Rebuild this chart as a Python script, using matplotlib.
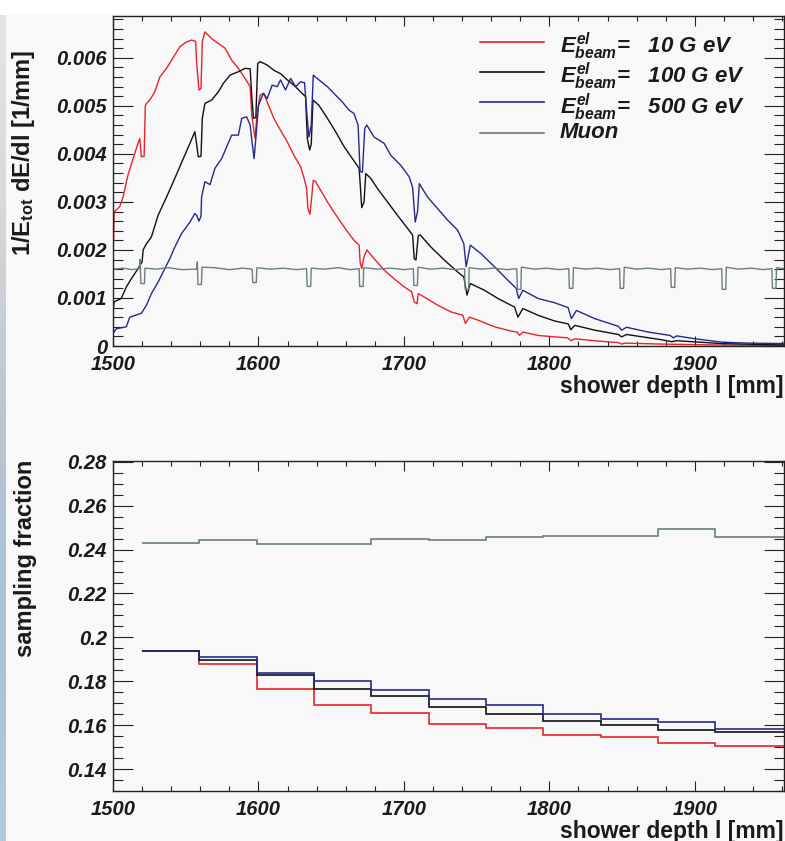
import numpy as np
import matplotlib
matplotlib.use('Agg')
import matplotlib.pyplot as plt
from matplotlib.ticker import MultipleLocator, FuncFormatter
from matplotlib.colors import LinearSegmentedColormap
from matplotlib.patches import Rectangle

plt.rcParams['font.family'] = ['Liberation Sans', 'DejaVu Sans']
plt.rcParams['mathtext.fontset'] = 'custom'
plt.rcParams['mathtext.it'] = 'Liberation Sans:italic:bold'
plt.rcParams['mathtext.rm'] = 'Liberation Sans:italic:bold'
plt.rcParams['mathtext.bf'] = 'Liberation Sans:bold'

# ---- top panel: longitudinal shower profile, 1/E_tot dE/dl [1/mm] ----
red_x = [1500.3, 1500.8, 1504.6, 1506.9, 1510.3, 1513.8, 1517.2, 1518.4, 1519.5, 1521.4, 1522.2,
         1523.0, 1525.3, 1528.7, 1532.2, 1536.8, 1542.5, 1546.0, 1550.0, 1554.0, 1556.8, 1557.5,
         1559.1, 1560.5, 1561.4, 1563.2, 1567.8, 1572.4, 1577.0, 1581.6, 1586.2, 1590.8, 1594.3,
         1595.4, 1597.7, 1598.9, 1601.1, 1603.7, 1606.0, 1610.6, 1615.2, 1619.8, 1624.4, 1629.0,
         1631.3, 1633.1, 1634.0, 1635.4, 1636.3, 1637.7, 1639.3, 1642.8, 1647.4, 1651.9, 1656.6,
         1661.2, 1665.7, 1669.2, 1669.9, 1671.0, 1672.6, 1674.5, 1679.5, 1686.4, 1693.3, 1700.2,
         1705.3, 1707.1, 1709.0, 1709.9, 1714.0, 1723.2, 1732.4, 1740.5, 1742.3, 1745.0, 1750.8,
         1762.3, 1773.8, 1777.9, 1779.5, 1781.8, 1792.2, 1803.7, 1812.5, 1815.0, 1817.5, 1831.0,
         1847.4, 1849.7, 1852.0, 1877.0, 1918.0, 1963.0]
red_y = [0.00210, 0.00279, 0.00290, 0.00310, 0.00356, 0.00390, 0.00422, 0.00432, 0.00394, 0.00395, 0.00500,
         0.00505, 0.00512, 0.00529, 0.00560, 0.00578, 0.00606, 0.00623, 0.00632, 0.00637, 0.00634, 0.00590,
         0.00533, 0.00536, 0.00634, 0.00654, 0.00640, 0.00630, 0.00620, 0.00595, 0.00578, 0.00557, 0.00540,
         0.00480, 0.00432, 0.00480, 0.00522, 0.00526, 0.00508, 0.00474, 0.00449, 0.00425, 0.00397, 0.00373,
         0.00350, 0.00328, 0.00286, 0.00274, 0.00300, 0.00345, 0.00342, 0.00324, 0.00300, 0.00279, 0.00258,
         0.00238, 0.00220, 0.00210, 0.00175, 0.00161, 0.00186, 0.00200, 0.00182, 0.00158, 0.00140, 0.00123,
         0.00113, 0.00092, 0.00088, 0.00109, 0.00102, 0.00085, 0.00071, 0.00064, 0.00047, 0.00060, 0.00054,
         0.00040, 0.00031, 0.00029, 0.00022, 0.00029, 0.00022, 0.00019, 0.00017, 0.00011, 0.00015, 0.00011,
         0.00007, 0.00004, 0.00006, 0.00004, 0.00002, 0.00001]

black_x = [1500.0, 1500.8, 1505.7, 1509.2, 1512.6, 1517.2, 1520.0, 1520.7, 1523.0, 1526.4, 1531.0,
           1536.8, 1542.5, 1548.3, 1552.9, 1556.3, 1557.5, 1558.6, 1560.5, 1561.4, 1563.2, 1567.8,
           1572.4, 1575.9, 1580.5, 1586.2, 1590.8, 1594.3, 1595.4, 1596.6, 1598.2, 1599.5, 1601.1,
           1606.0, 1610.6, 1615.2, 1619.8, 1624.4, 1629.0, 1632.4, 1633.6, 1635.2, 1636.3, 1637.5,
           1641.6, 1647.4, 1653.1, 1658.9, 1664.6, 1669.2, 1669.9, 1671.0, 1672.6, 1673.8, 1677.2,
           1681.8, 1688.7, 1695.6, 1702.5, 1706.0, 1707.1, 1708.3, 1709.9, 1711.3, 1718.6, 1727.8,
           1737.0, 1741.2, 1743.4, 1745.7, 1755.4, 1764.6, 1776.1, 1778.4, 1781.8, 1792.2, 1803.7,
           1808.3, 1813.0, 1814.8, 1817.5, 1831.2, 1847.4, 1849.7, 1853.1, 1877.2, 1884.1, 1887.6,
           1918.6, 1963.0]
black_y = [0.00071, 0.00092, 0.00099, 0.00123, 0.00140, 0.00161, 0.00175, 0.00200, 0.00213, 0.00227, 0.00272,
           0.00310, 0.00349, 0.00390, 0.00422, 0.00446, 0.00420, 0.00394, 0.00395, 0.00474, 0.00505, 0.00512,
           0.00529, 0.00547, 0.00564, 0.00571, 0.00578, 0.00577, 0.00520, 0.00474, 0.00476, 0.00588, 0.00592,
           0.00585, 0.00574, 0.00567, 0.00554, 0.00543, 0.00529, 0.00519, 0.00432, 0.00408, 0.00420, 0.00512,
           0.00501, 0.00474, 0.00446, 0.00415, 0.00390, 0.00370, 0.00340, 0.00288, 0.00300, 0.00359, 0.00349,
           0.00328, 0.00300, 0.00272, 0.00245, 0.00231, 0.00182, 0.00179, 0.00230, 0.00231, 0.00206, 0.00179,
           0.00154, 0.00144, 0.00106, 0.00130, 0.00116, 0.00099, 0.00081, 0.00060, 0.00078, 0.00064, 0.00052,
           0.00049, 0.00046, 0.00034, 0.00043, 0.00033, 0.00024, 0.00019, 0.00024, 0.00013, 0.00009, 0.00011,
           0.00005, 0.00002]

blue_x = [1500.0, 1502.3, 1509.2, 1511.5, 1519.5, 1523.0, 1526.4, 1531.0, 1535.6, 1539.1, 1542.5,
          1547.1, 1552.9, 1556.3, 1557.5, 1559.1, 1560.5, 1560.9, 1563.2, 1566.7, 1570.1, 1574.7,
          1578.2, 1581.6, 1586.2, 1588.5, 1591.9, 1594.3, 1595.4, 1597.0, 1598.4, 1600.0, 1603.4,
          1606.0, 1609.4, 1612.9, 1615.2, 1618.6, 1622.1, 1625.5, 1629.0, 1631.7, 1633.1, 1634.7,
          1636.3, 1637.7, 1641.6, 1647.4, 1653.1, 1657.7, 1662.3, 1665.7, 1668.5, 1669.9, 1671.5,
          1673.1, 1674.5, 1679.5, 1686.4, 1691.0, 1697.9, 1703.7, 1706.0, 1707.8, 1709.4, 1710.6,
          1716.3, 1723.2, 1730.1, 1737.0, 1741.2, 1742.8, 1745.7, 1753.1, 1762.3, 1771.5, 1777.2,
          1778.9, 1781.8, 1792.2, 1803.7, 1812.9, 1815.2, 1818.6, 1831.2, 1847.4, 1849.7, 1853.1,
          1868.0, 1883.0, 1885.3, 1887.6, 1900.2, 1918.6, 1937.0, 1963.0]
blue_y = [0.00026, 0.00036, 0.00040, 0.00060, 0.00068, 0.00085, 0.00109, 0.00133, 0.00161, 0.00182, 0.00206,
          0.00234, 0.00258, 0.00276, 0.00272, 0.00260, 0.00270, 0.00310, 0.00342, 0.00336, 0.00370, 0.00390,
          0.00415, 0.00439, 0.00439, 0.00474, 0.00477, 0.00460, 0.00430, 0.00390, 0.00439, 0.00501, 0.00526,
          0.00515, 0.00543, 0.00540, 0.00554, 0.00533, 0.00557, 0.00540, 0.00550, 0.00548, 0.00490, 0.00435,
          0.00460, 0.00564, 0.00554, 0.00540, 0.00522, 0.00508, 0.00491, 0.00484, 0.00460, 0.00363, 0.00362,
          0.00453, 0.00460, 0.00435, 0.00422, 0.00397, 0.00376, 0.00352, 0.00330, 0.00258, 0.00280, 0.00338,
          0.00310, 0.00286, 0.00262, 0.00241, 0.00213, 0.00165, 0.00210, 0.00192, 0.00165, 0.00137, 0.00120,
          0.00099, 0.00116, 0.00099, 0.00090, 0.00080, 0.00057, 0.00074, 0.00057, 0.00041, 0.00033, 0.00039,
          0.00029, 0.00022, 0.00017, 0.00021, 0.00015, 0.00008, 0.00006, 0.00005]

muon_x = [1500.0, 1507.0, 1513.0, 1518.0, 1518.6, 1519.2, 1521.6, 1522.0, 1530.0, 1538.0, 1547.0,
          1557.6, 1558.0, 1558.4, 1560.8, 1561.2, 1570.0, 1580.0, 1589.0, 1595.7, 1596.1, 1598.5,
          1598.9, 1608.0, 1617.0, 1626.0, 1633.1, 1633.5, 1635.9, 1636.3, 1645.0, 1655.0, 1663.0,
          1669.2, 1669.6, 1672.0, 1672.4, 1682.0, 1691.0, 1700.0, 1706.5, 1706.9, 1709.3, 1709.7,
          1718.0, 1727.0, 1735.0, 1741.7, 1742.1, 1744.5, 1744.9, 1753.0, 1762.0, 1771.0, 1777.6,
          1778.0, 1780.4, 1780.8, 1790.0, 1798.0, 1807.0, 1813.4, 1813.8, 1816.2, 1816.6, 1825.0,
          1833.0, 1842.0, 1848.3, 1848.7, 1851.1, 1851.5, 1860.0, 1868.0, 1877.0, 1883.4, 1883.8,
          1886.2, 1886.6, 1895.0, 1904.0, 1912.0, 1918.5, 1918.9, 1921.3, 1921.7, 1930.0, 1939.0,
          1947.0, 1953.0, 1953.4, 1955.8, 1956.2, 1963.0]
muon_y = [0.00160, 0.00162, 0.00159, 0.00161, 0.00180, 0.00130, 0.00130, 0.00162, 0.00160, 0.00163, 0.00159,
          0.00160, 0.00175, 0.00128, 0.00128, 0.00164, 0.00163, 0.00159, 0.00162, 0.00160, 0.00132, 0.00132,
          0.00163, 0.00160, 0.00162, 0.00159, 0.00161, 0.00124, 0.00124, 0.00162, 0.00160, 0.00163, 0.00159,
          0.00161, 0.00124, 0.00124, 0.00163, 0.00160, 0.00162, 0.00159, 0.00161, 0.00126, 0.00126, 0.00164,
          0.00160, 0.00162, 0.00159, 0.00161, 0.00118, 0.00118, 0.00163, 0.00160, 0.00162, 0.00159, 0.00161,
          0.00118, 0.00118, 0.00164, 0.00160, 0.00162, 0.00159, 0.00161, 0.00120, 0.00120, 0.00163, 0.00160,
          0.00162, 0.00159, 0.00161, 0.00120, 0.00120, 0.00164, 0.00160, 0.00162, 0.00159, 0.00161, 0.00122,
          0.00122, 0.00163, 0.00160, 0.00162, 0.00159, 0.00161, 0.00118, 0.00118, 0.00164, 0.00160, 0.00162,
          0.00159, 0.00161, 0.00120, 0.00120, 0.00163, 0.00160]

# ---- bottom panel: sampling fraction per layer ----
layer_edges = [1520.0, 1559.4, 1598.8, 1638.2, 1677.6, 1717.0, 1756.4, 1795.8, 1835.2, 1874.6, 1914.0, 1993.0]
sf_red = [0.1938, 0.1879, 0.1764, 0.1694, 0.1654, 0.1605, 0.1586, 0.1553, 0.1544, 0.1520, 0.1503]
sf_black = [0.1938, 0.1895, 0.1830, 0.1767, 0.1732, 0.1682, 0.1650, 0.1617, 0.1601, 0.1579, 0.1567]
sf_blue = [0.1938, 0.1911, 0.1839, 0.1800, 0.1761, 0.1720, 0.1692, 0.1653, 0.1627, 0.1615, 0.1582]
sf_muon = [0.2430, 0.2442, 0.2427, 0.2426, 0.2449, 0.2442, 0.2456, 0.2462, 0.2462, 0.2492, 0.2459]

labels = [r'$E^{el}_{beam}$=   10 G eV', r'$E^{el}_{beam}$=   100 G eV',
          r'$E^{el}_{beam}$=   500 G eV', 'Muon']
colors = ['#e8232d', '#111111', '#27298a', '#6b7f7f']

W, H = 785, 841
bg = '#f8f8f8'
fig = plt.figure(figsize=(W / 100, H / 100), dpi=100, facecolor=bg)

# white strip on top and the blurred slide background at the left edge
fig.patches.append(Rectangle((0, 1 - 15 / H), 1, 15 / H, transform=fig.transFigure,
                             facecolor='white', edgecolor='none', zorder=0))
strip = fig.add_axes([0, 0, 6 / W, 1])
cmap = LinearSegmentedColormap.from_list('strip', ['#e6e6e6', '#d8d8d8', '#b8c6d2', '#a9c1d8', '#b3c9de'])
strip.imshow(np.linspace(0, 1, 200)[:, None], aspect='auto', cmap=cmap)
strip.axis('off')

ax1 = fig.add_axes([113 / W, 1 - 346 / H, 670.5 / W, 330 / H], facecolor=bg)
ax2 = fig.add_axes([113 / W, 1 - 791 / H, 670.5 / W, 330.3 / H], facecolor=bg)

for x, y, c in zip([red_x, black_x, blue_x, muon_x], [red_y, black_y, blue_y, muon_y], colors):
    ax1.plot(x, y, color=c, lw=1.0)

for vals, c in zip([sf_red, sf_black, sf_blue, sf_muon], colors):
    ax2.stairs(vals, layer_edges, baseline=None, color=c, lw=1.2)

ax1.set_xlim(1500, 1961)
ax1.set_ylim(0, 0.00687)
ax2.set_xlim(1500, 1961)
ax2.set_ylim(0.13, 0.2805)

ax1.yaxis.set_major_locator(MultipleLocator(0.001))
ax1.yaxis.set_minor_locator(MultipleLocator(0.0002))
ax2.yaxis.set_major_locator(MultipleLocator(0.02))
ax2.yaxis.set_minor_locator(MultipleLocator(0.005))
fmt = FuncFormatter(lambda v, p: '%g' % round(v, 6))
for ax in (ax1, ax2):
    ax.xaxis.set_major_locator(MultipleLocator(100))
    ax.xaxis.set_minor_locator(MultipleLocator(20))
    ax.yaxis.set_major_formatter(fmt)
    ax.tick_params(which='both', direction='in', top=True, right=True, width=0.8, colors='#222222',
                   labelcolor='#1a1a1a', labelsize=14.5)
    ax.tick_params(axis='y', which='major', length=14.4, pad=4.3)
    ax.tick_params(axis='y', which='minor', length=7.2)
    ax.tick_params(axis='x', which='major', length=7, pad=6.5)
    ax.tick_params(axis='x', which='minor', length=3.5)
    for s in ax.spines.values():
        s.set_linewidth(1.0)
        s.set_color('#222222')
    plt.setp(ax.get_xticklabels() + ax.get_yticklabels(), fontweight='bold', fontstyle='italic')
    ax.set_xlabel('shower depth l [mm]', loc='right', fontsize=16.5, fontweight='bold', color='#1a1a1a')
    ax.xaxis.set_label_coords(1.0, -0.088)

ax1.set_ylabel(r'1/E$_{\mathbf{tot}}$ dE/dl [1/mm]', fontsize=17, fontweight='bold',
               color='#1a1a1a', va='center')
ax1.yaxis.set_label_coords(-0.133, 0.585)
ax2.set_ylabel('sampling fraction', fontsize=17, fontweight='bold', color='#1a1a1a', va='center')
ax2.yaxis.set_label_coords(-0.1305, 0.705)

# legend drawn in ROOT style: line samples on the left, labels next to them
leg_line_y = [0.9221, 0.8312, 0.7385, 0.6464]
leg_text_dy = [-0.015, -0.015, -0.015, 0.0]
for c, lab, ly, dy in zip(colors, labels, leg_line_y, leg_text_dy):
    ax1.plot([0.5474, 0.6428], [ly, ly], color=c, lw=1.2, transform=ax1.transAxes, clip_on=False)
    ax1.text(0.6667, ly + dy, lab, transform=ax1.transAxes, va='center', ha='left',
             fontsize=16, fontweight='bold', fontstyle='italic', color='#1a1a1a')

fig.savefig('out.png', dpi=100, facecolor=bg)
